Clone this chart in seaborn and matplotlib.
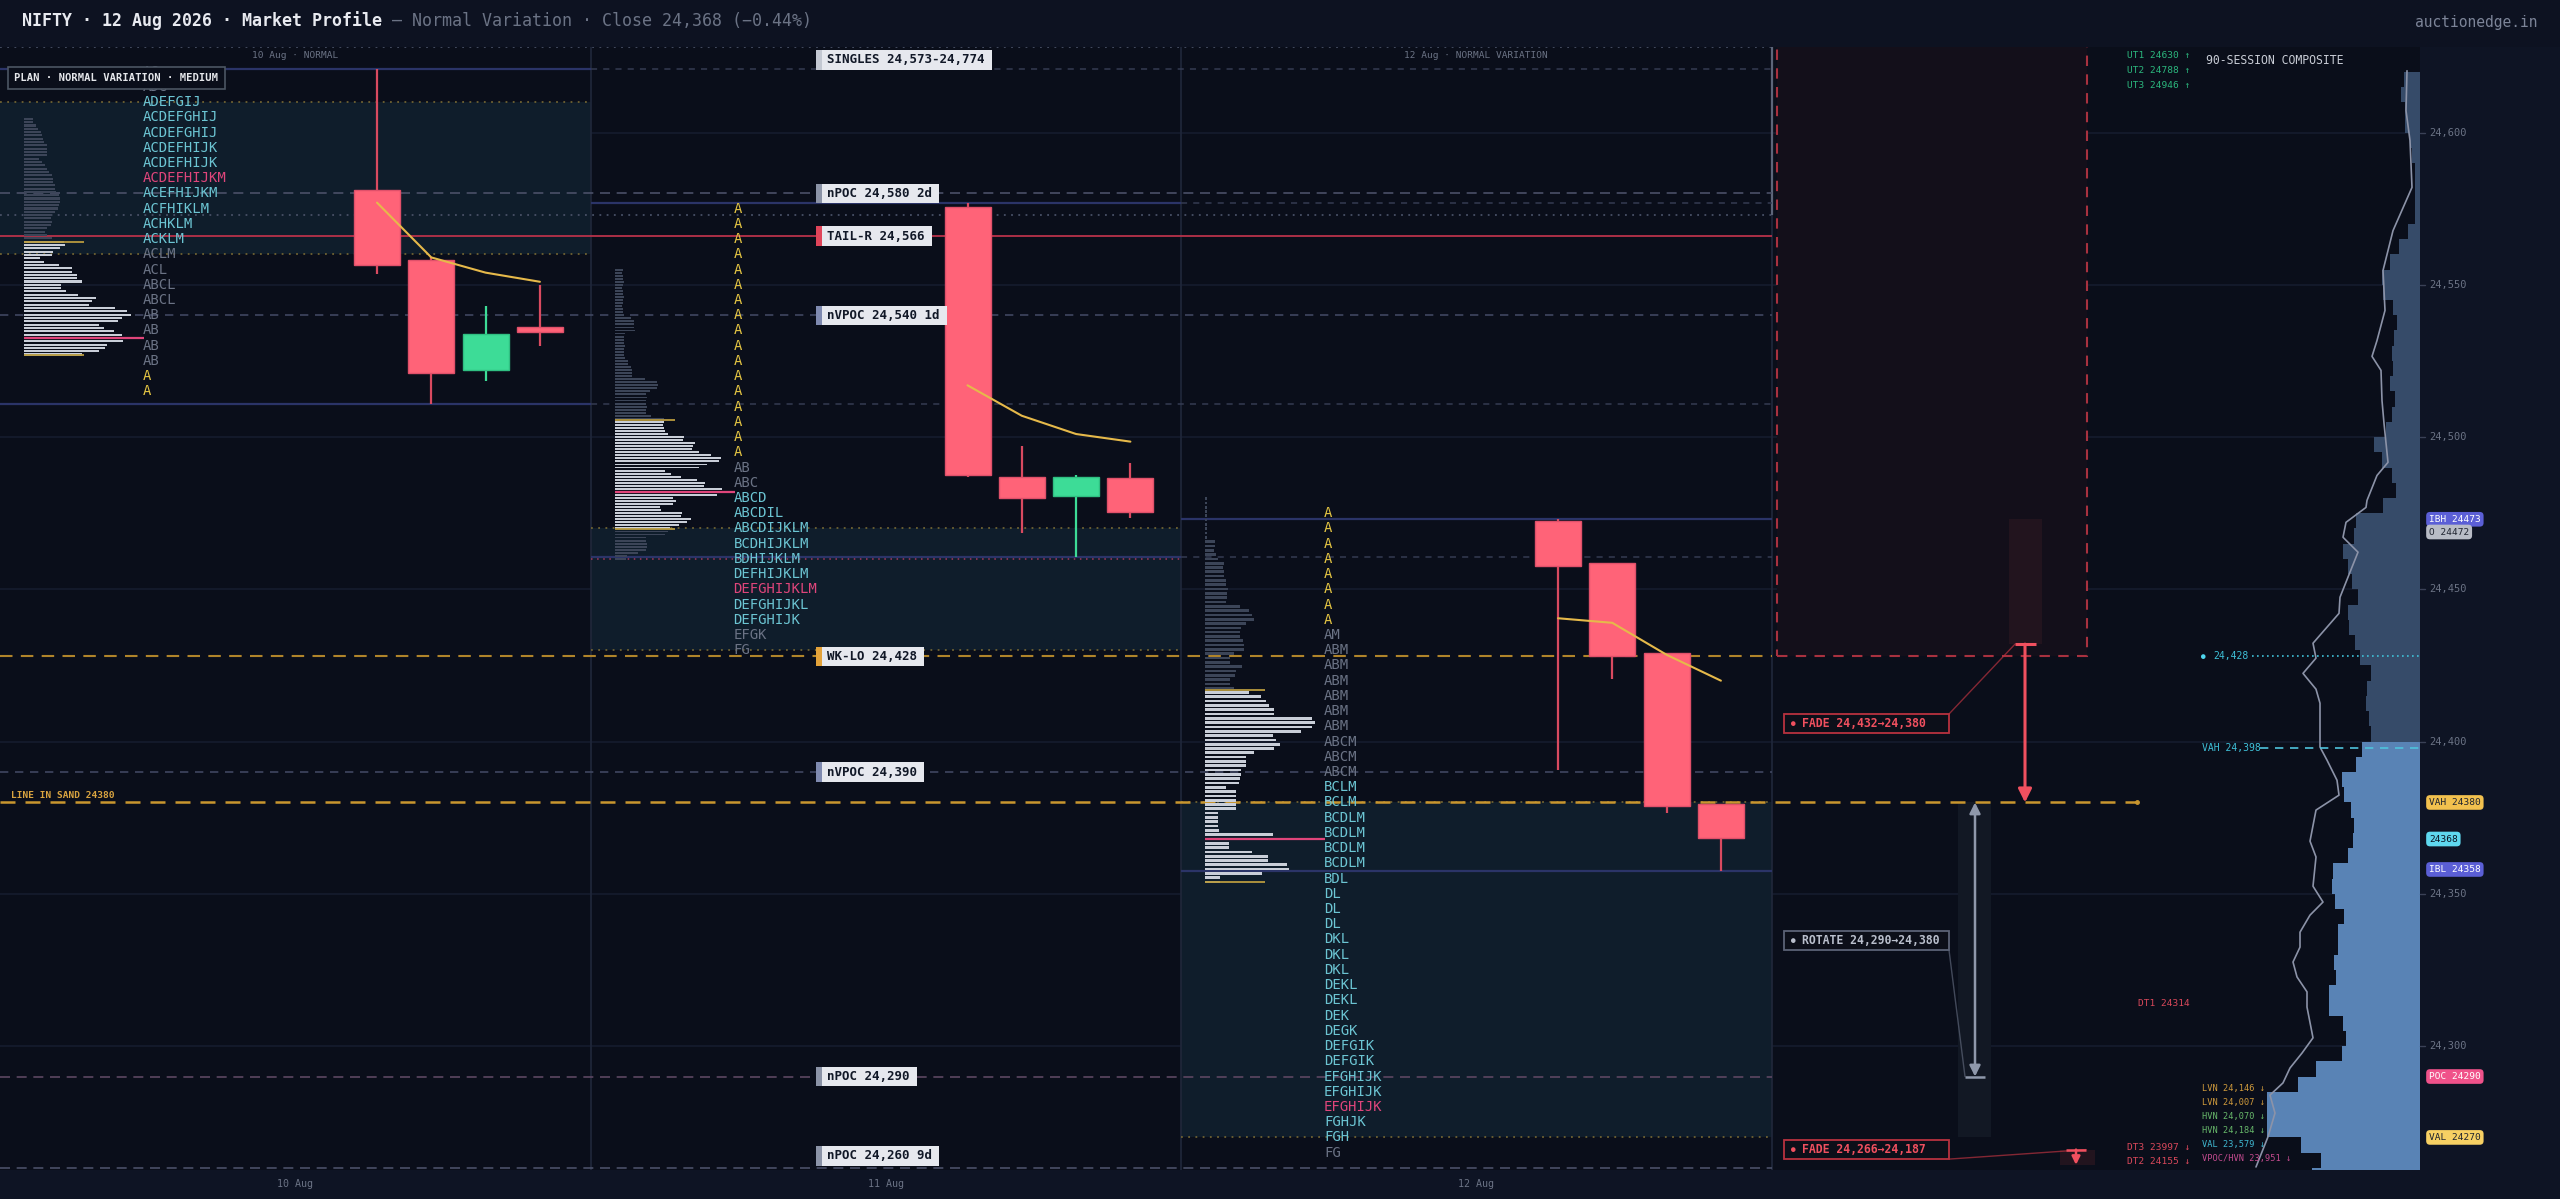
import numpy as np
import pandas as pd
import matplotlib
matplotlib.use("Agg")
import matplotlib.pyplot as plt
from matplotlib.patches import Rectangle
import seaborn as sns

# ---------------- data ----------------
day_names = ["10 Aug", "11 Aug", "12 Aug"]
day_tags = ["10 Aug · NORMAL", "", "12 Aug · NORMAL VARIATION"]

# candles (4 per session)
c_open  = [24581, 24558, 24522, 24536, 24575.5, 24487, 24480.5, 24486.5, 24472.5, 24458.5, 24429, 24379.5]
c_high  = [24621, 24559, 24543, 24550, 24577, 24497, 24487.5, 24491.5, 24473, 24458.5, 24429, 24379.5]
c_low   = [24553.5, 24511, 24518.5, 24530, 24487, 24468.5, 24460.7, 24473.5, 24390.5, 24420.5, 24376.5, 24357.6]
c_close = [24556.5, 24521, 24534, 24534.5, 24487.5, 24480, 24487, 24475.5, 24457.5, 24428, 24379, 24368.3]
vwap = [[24577, 24559, 24554, 24551],
        [24517, 24507, 24501, 24498.5],
        [24440.5, 24439, 24428.5, 24420]]

# TPO letters
tpo_top = [24620, 24575, 24475]
tpo_step = 5
tpo_rows = [
    ["AG", "ADG", "ADEFGIJ", "ACDEFGHIJ", "ACDEFGHIJ", "ACDEFHIJK", "ACDEFHIJK", "ACDEFHIJKM",
     "ACEFHIJKM", "ACFHIKLM", "ACHKLM", "ACKLM", "ACLM", "ACL", "ABCL", "ABCL", "AB", "AB", "AB", "AB",
     "A", "A"],
    ["A", "A", "A", "A", "A", "A", "A", "A", "A", "A", "A", "A", "A", "A", "A", "A", "A",
     "AB", "ABC", "ABCD", "ABCDIL", "ABCDIJKLM", "BCDHIJKLM", "BDHIJKLM", "DEFHIJKLM", "DEFGHIJKLM",
     "DEFGHIJKL", "DEFGHIJK", "EFGK", "FG"],
    ["A", "A", "A", "A", "A", "A", "A", "A", "AM", "ABM", "ABM", "ABM", "ABM", "ABM", "ABM",
     "ABCM", "ABCM", "ABCM", "BCLM", "BCLM", "BCDLM", "BCDLM", "BCDLM", "BCDLM", "BDL", "DL", "DL", "DL",
     "DKL", "DKL", "DKL", "DEKL", "DEKL", "DEK", "DEGK", "DEFGIK", "DEFGIK", "EFGHIJK", "EFGHIJK",
     "EFGHIJK", "FGHJK", "FGH", "FG"],
]
tpo_va = [(24565, 24610), (24440, 24480), (24270, 24385)]
tpo_poc = [24585, 24450, 24280]
va_shade = [(24560, 24610), (24430, 24470), (24270, 24380)]

# volume profiles (top price, bin size, volumes top->down)
vp_top = [24604.5, 24555.0, 24479.8]
vp_bin = [1.09, 1.0, 1.415]
vp_vals = [
    [9, 9, 12.3, 14.3, 16.7, 18.3, 19, 20, 22.7, 23.3, 23.3, 23.3, 15, 18.3, 21, 22.7, 25, 28.3, 29.3, 29.3,
     31, 31, 32.3, 35, 36, 35.7, 35, 34, 31, 28.3, 27.3, 27.7, 26.7, 23.3, 21, 23.3, 28.3, 40, 40.7, 36,
     29, 28.3, 15.7, 20, 35, 48.3, 47.7, 52.7, 53.3, 58.3, 36.7, 37.3, 41.7, 54.3, 71.7, 67.7, 65, 90.7, 103, 107,
     98, 94, 75, 80, 90, 98, 99, 99, 83, 81, 75, 57.7],
    [8, 7, 8, 8, 9, 8, 7, 8, 8, 9, 8, 8, 7, 8, 8, 9, 16, 19.5, 19, 19.5, 20, 10.7, 9.6, 9, 9.6, 10, 9.6, 9, 9.6, 10,
     13.4, 13, 16, 17.6, 17, 17.6, 30.6, 42.5, 43, 42, 35.6, 31.8, 32, 31, 31.8, 32.5, 31.8, 31, 36.4, 49,
     49, 48, 49, 50, 53, 69, 68, 80, 78, 77, 84, 96, 106.5, 104.6, 92, 84, 50, 56.7, 66, 82,
     90, 89, 107, 120, 102, 58, 61, 58.6, 45.6, 46, 67, 66, 76.6, 72, 64, 55, 53, 50, 31.8, 31,
     32.6, 32, 31.5, 23, 12, 11],
    [1.5, 1.5, 1.5, 1.5, 1.5, 1.5, 1.5, 1.5, 1.5, 1.5,
     9.6, 9.6, 8.8, 10.7, 13, 19, 18.4, 18.8, 19, 21, 21, 23, 22, 22, 21, 35, 44, 46.7, 48.7, 41.4,
     35.6, 35.2, 35, 38.3, 39, 39, 28.7, 25, 25, 37, 30.6, 30, 25, 25, 28.7, 44, 56, 61, 63.6, 69,
     69, 107, 110, 106.5, 95.8, 68, 71, 75, 69, 49, 41.4, 41.4, 41.4, 36.4, 35.6, 34.5, 33.7, 21, 30.6, 30.6,
     30.6, 30.6, 30.6, 13.4, 13.4, 13.4, 13.4, 14, 68, 84, 24, 24, 47, 62.5, 62.5, 82, 83.5, 57, 15, 15],
]
vp_va = [(24527, 24564), (24469.7, 24505.5), (24354, 24417)]
vp_poc = [24532.6, 24482.0, 24368.0]

# reference levels
lvl_text = ["SINGLES 24,573-24,774", "nPOC 24,580 2d", "TAIL-R 24,566", "nVPOC 24,540 1d",
            "WK-LO 24,428", "nVPOC 24,390", "nPOC 24,290", "nPOC 24,260 9d"]
lvl_price = [24774, 24580, 24566, 24540, 24428, 24390, 24290, 24260]
lvl_kind = ["singles", "npoc", "tail", "nvpoc", "wklo", "nvpoc", "npoc_dev", "npoc"]
singles_lo = 24573
line_in_sand = 24380

# targets
ut_text = ["UT1 24630 ↑", "UT2 24788 ↑", "UT3 24946 ↑"]
dt_text = ["DT1 24314", "DT3 23997 ↓", "DT2 24155 ↓"]
dt_price = [24314, None, None]

# scenarios
fade1 = (24432, 24380)
rotate = (24290, 24380)
fade2 = (24266, 24187)

# 90-session composite (5-pt bins, lower edges, top->down)
comp_lo = np.arange(24615, 24250, -5)
comp_vol = [15.7, 19, 15, 15, 10, 7.7, 5, 5, 5, 5, 11.7, 21, 30, 38, 37, 26.7, 22.7, 25.7, 27.7, 26.7,
            30, 24.7, 28.3, 34, 45.7, 38.3, 28.3, 24.3, 37.3, 64, 66, 76.7, 72.3, 68.3, 61.7, 72.3, 71, 65, 60, 49.3,
            53.3, 54.3, 51, 49, 58.3, 64, 77.7, 75.7, 69, 66, 67.3, 72.3, 86.7, 88.3, 85, 75.7, 81.7, 81.7, 86, 84,
            90.7, 90.7, 76.7, 74.3, 78.3, 104, 122, 153, 153, 153, 119, 99, 108]
comp_vah = 24398
curve_p = [24620.3, 24607.2, 24597.4, 24582, 24567.8, 24554.7, 24541.6, 24531.7, 24526.5, 24521.9, 24512,
           24504.5, 24491.7, 24487.4, 24479.2, 24476.9, 24472, 24467.1, 24462.2, 24454, 24447.4, 24442.1,
           24432.3, 24427.4, 24422.4, 24417.2, 24412.6, 24398.2, 24393.9, 24387.3, 24382.4, 24377.5, 24367.3,
           24362.1, 24352.5, 24347.3, 24343, 24337.4, 24332.5, 24327.6, 24322.7, 24317.8, 24312.8, 24302.7,
           24297.7, 24292.8, 24287.9, 24283.9, 24278, 24270.2, 24260.3]
curve_w = [13, 14, 10, 8, 27, 37, 35, 43, 48, 39, 38, 36, 32, 43, 53, 54, 74, 77, 62, 72, 80, 81, 107, 104, 117,
           104, 100, 100, 93, 83, 81, 104, 110, 104, 107, 97, 110, 120, 120, 127, 123, 113, 113, 107, 118, 130,
           137, 150, 145, 152, 164]
comp_ticks = [24300, 24350, 24400, 24450, 24500, 24550, 24600]
tag_text = ["IBH 24473", "O 24472", "VAH 24380", "24368", "IBL 24358", "POC 24290", "VAL 24270"]
tag_price = [24473, 24472, 24380, 24368, 24358, 24290, 24270]
tag_kind = ["ib", "open", "vah", "close", "ib", "poc", "val"]
node_text = ["LVN 24,146 ↓", "LVN 24,007 ↓", "HVN 24,070 ↓", "HVN 24,184 ↓", "VAL 23,579 ↓", "VPOC/HVN 23,951 ↓"]
node_kind = ["lvn", "lvn", "hvn", "hvn", "val", "vpoc"]
marker_428 = 24428

# ---------------- layout & style ----------------
W, H = 2560, 1199
PT, PB = 46.7, 1170.0
MAIN_W = 2197
COMP_L, COMP_R = 2197, 2420
YLO, YHI = 24259.3, 24628.2
PANEL_W = 590.5

BG = "#0a0e1a"
FIG_BG = "#0d1221"
GRID = "#161c2e"
SEP = "#1f2639"
HL = "#2b3468"
CYAN = "#6cc5d3"
PINK = "#e0457b"
GREY_T = "#6b7385"
YEL = "#e3c443"
RED = "#ff6378"
GREEN = "#3ddc97"
GOLD = "#c9962e"
MONO = ["DejaVu Sans Mono", "DejaVu Sans"]


def price_at(ypx):
    return YHI - (ypx - PT) / (PB - PT) * (YHI - YLO)


sns.set_theme(style="dark", rc={"axes.facecolor": BG, "figure.facecolor": FIG_BG,
                                "axes.edgecolor": BG, "axes.grid": False})
plt.rcParams["font.family"] = MONO

fig = plt.figure(figsize=(W / 100, H / 100), dpi=100)
ax_b = (H - PB) / H
ax_h = (PB - PT) / H
ax = fig.add_axes([0, ax_b, MAIN_W / W, ax_h])
axc = fig.add_axes([COMP_L / W, ax_b, (COMP_R - COMP_L) / W, ax_h])
for a in (ax, axc):
    a.set_facecolor(BG)
    for s in a.spines.values():
        s.set_visible(False)

ax.set_xlim(0, MAIN_W)
ax.set_ylim(YLO, YHI)

# grid
for g in comp_ticks:
    ax.axhline(g, color=GRID, lw=1.2, zorder=0.2)
    axc.axhline(g, color=GRID, lw=1.2, zorder=0.2)

x0s = [i * PANEL_W for i in range(3)]
forecast_x = 3 * PANEL_W

# value area shading
for d in range(3):
    lo, hi = va_shade[d]
    ax.add_patch(Rectangle((x0s[d], lo), PANEL_W, hi - lo, fc="#0f1d2b", ec="none", zorder=0.3))
    ax.hlines([lo, hi], x0s[d], x0s[d] + PANEL_W, colors="#6f6232", linestyles=(0, (1, 3)), lw=1.3, zorder=0.6)

# panel separators
for d in range(1, 4):
    ax.axvline(x0s[0] + d * PANEL_W, color=SEP, lw=1.3, zorder=0.4)

# singles zone frame
ax.hlines([singles_lo, YHI - 0.25], 0, forecast_x, colors="#485066", linestyles=(0, (1, 3)), lw=1.3, zorder=0.7)
ax.vlines(forecast_x, singles_lo, YHI, colors="#5d6579", lw=1.6, zorder=0.7)

# session high / low lines
for d in range(3):
    hi = max(c_high[4 * d:4 * d + 4])
    lo = min(c_low[4 * d:4 * d + 4])
    ax.hlines([hi, lo], x0s[d], x0s[d] + PANEL_W, colors=HL, lw=1.6, zorder=0.8)
    if d < 2:
        ax.hlines([hi, lo], x0s[d] + PANEL_W, forecast_x, colors="#343b52", linestyles=(0, (4, 4)), lw=1.1, zorder=0.7)
    if d == 1:
        ax.hlines(lo - 0.8, x0s[d], x0s[d] + PANEL_W, colors="#a53a5e", linestyles=(0, (1, 3)), lw=1.1, zorder=0.8)

# reference levels
lvl_style = {
    "singles": dict(tab="#c3c8d2", color=None, ls=None, lw=0),
    "npoc": dict(tab="#8b93a7", color="#4a5068", ls=(0, (6, 4)), lw=1.2),
    "npoc_dev": dict(tab="#8b93a7", color="#5c4762", ls=(0, (6, 4)), lw=1.2),
    "tail": dict(tab="#e0455a", color="#b8324a", ls="-", lw=1.3),
    "nvpoc": dict(tab="#7f8ab0", color="#3f4660", ls=(0, (5, 4)), lw=1.2),
    "wklo": dict(tab="#e3a23a", color="#b0842a", ls=(0, (6, 4)), lw=1.5),
}
LBL_X = 816
CHAR9 = 0.602 * 9 * 100 / 72
box_h = 19.5 / (PB - PT) * (YHI - YLO)
for txt, p, kind in zip(lvl_text, lvl_price, lvl_kind):
    st = lvl_style[kind]
    if st["color"] is not None:
        ax.hlines(p, 0, forecast_x, colors=st["color"], linestyles=st["ls"], lw=st["lw"], zorder=0.9)
    yl = min(max(p, YLO + 4.6), YHI - 4.3)
    bw = 18 + len(txt) * CHAR9
    ax.add_patch(Rectangle((LBL_X, yl - box_h / 2), bw, box_h, fc="#e6e8ee", ec="none", zorder=12))
    ax.add_patch(Rectangle((LBL_X, yl - box_h / 2), 6, box_h, fc=st["tab"], ec="none", zorder=13))
    ax.text(LBL_X + 11, yl, txt, fontsize=9, weight="bold", color="#111827", va="center", ha="left",
            family=MONO, zorder=14)

# line in sand
ax.hlines(line_in_sand, 0, 2137, colors=GOLD, linestyles=(0, (6, 4)), lw=1.8, zorder=1.0)
ax.plot([2137], [line_in_sand], "o", ms=2.5, color=GOLD, zorder=1.0)
ax.text(11, price_at(795), "LINE IN SAND 24380", fontsize=6.8, weight="bold", color="#d9a440",
        va="center", ha="left", zorder=5)

# volume profiles
for d in range(3):
    vals = np.array(vp_vals[d])
    ys = vp_top[d] - np.arange(len(vals)) * vp_bin[d]
    lo, hi = vp_va[d]
    cols = ["#c9ced8" if lo - 0.3 <= y <= hi + 0.3 else "#3c4558" for y in ys]
    ax.barh(ys, vals, left=x0s[d] + 24, height=vp_bin[d] * 0.62, color=cols, lw=0, zorder=2)
    ax.hlines([lo, hi], x0s[d] + 24, x0s[d] + 84, colors="#b89a3e", lw=1.3, zorder=2.5)
    ax.hlines(vp_poc[d], x0s[d] + 24, x0s[d] + 144, colors=PINK, lw=1.6, zorder=2.5)

# TPO letters
for d in range(3):
    for i, row in enumerate(tpo_rows[d]):
        p = tpo_top[d] - i * tpo_step
        lo, hi = tpo_va[d]
        if row == "A":
            col = YEL
        elif p == tpo_poc[d]:
            col = PINK
        elif lo <= p <= hi:
            col = CYAN
        else:
            col = GREY_T
        ax.text(x0s[d] + 143, p, row, fontsize=10, color=col, va="center", ha="left", zorder=4)

# candles
for k in range(12):
    d, j = divmod(k, 4)
    x = x0s[d] + 377 + j * 54.3
    up = c_close[k] >= c_open[k]
    col = GREEN if up else RED
    wick = GREEN if up else "#d94a60"
    ax.vlines(x, c_low[k], c_high[k], colors=wick, lw=1.6, zorder=5)
    lo = min(c_open[k], c_close[k])
    ax.bar(x, abs(c_close[k] - c_open[k]), bottom=lo, width=46, color=col, edgecolor="#e0506a" if not up else "#2fbf82",
           lw=1, zorder=6)

# vwap lines
for d in range(3):
    xs = [x0s[d] + 377 + j * 54.3 for j in range(4)]
    sns.lineplot(x=xs, y=vwap[d], color="#e6b94a", lw=1.5, ax=ax, zorder=7)

# session tags & PLAN box
for d in range(3):
    if day_tags[d]:
        ax.text(x0s[d] + PANEL_W / 2, price_at(55), day_tags[d], fontsize=6.8, color=GREY_T, ha="center",
                va="center", zorder=5)
ax.text(14.5, price_at(78), "PLAN · NORMAL VARIATION · MEDIUM", fontsize=7.6, weight="bold", color="#e5e7eb",
        ha="left", va="center", zorder=15,
        bbox=dict(boxstyle="square,pad=0.6", fc=BG, ec="#4b5563", lw=1.2))

# ---- forecast zone ----
ax.add_patch(Rectangle((1777, fade1[0] - 4), 310, YHI - fade1[0] + 4 + 1, fc="#130f1a", ec="#a8313f",
                       ls=(0, (5, 4)), lw=1.5, zorder=0.5))
ax.add_patch(Rectangle((2009, fade1[0]), 33, 24473 - fade1[0], fc="#22141e", ec="none", zorder=0.6))
ax.annotate("", xy=(2025, fade1[1]), xytext=(2025, fade1[0]),
            arrowprops=dict(arrowstyle="-|>", color="#f0505f", lw=2.2, mutation_scale=20, shrinkA=0, shrinkB=0),
            zorder=8)
ax.hlines(fade1[0], 2015, 2036, colors="#f0505f", lw=2.2, zorder=8)

ax.add_patch(Rectangle((1958, rotate[0] - 20), 33, rotate[1] - rotate[0] + 20, fc="#121824", ec="none", zorder=0.6))
ax.annotate("", xy=(1975, rotate[1]), xytext=(1975, rotate[0]),
            arrowprops=dict(arrowstyle="<|-|>", color="#8f98ab", lw=1.8, mutation_scale=16, shrinkA=0, shrinkB=0),
            zorder=8)
ax.hlines(rotate[0], 1965, 1985, colors="#8f98ab", lw=1.8, zorder=8)

ax.add_patch(Rectangle((2060, fade2[0] - 5), 35, 5, fc="#22141e", ec="none", zorder=0.6))
ax.annotate("", xy=(2076, fade2[0] - 5), xytext=(2076, fade2[0]),
            arrowprops=dict(arrowstyle="-|>", color="#f0505f", lw=1.8, mutation_scale=12, shrinkA=0, shrinkB=0),
            zorder=8)
ax.hlines(fade2[0], 2066, 2086, colors="#f0505f", lw=1.8, zorder=8)

sc_h = 19 / (PB - PT) * (YHI - YLO)
scen = [("FADE 24,432→24,380", price_at(723.5), "#b8323f", "#f0505f", (2015, fade1[0])),
        ("ROTATE 24,290→24,380", price_at(940.5), "#5b6376", "#b9bfcc", (1965, rotate[0])),
        ("FADE 24,266→24,187", min(max(fade2[0], YLO + 4.1), YHI), "#b8323f", "#f0505f", (2086, fade2[0]))]
for txt, yc, ec, tc, tgt in scen:
    ax.add_patch(Rectangle((1784, yc - sc_h / 2), 165, sc_h, fc="#0c0f19", ec=ec, lw=1.3, zorder=9))
    ax.text(1791, yc, "●", fontsize=5.5, color=tc, va="center", ha="left", zorder=10)
    ax.text(1802, yc, txt, fontsize=8.3, weight="bold", color=tc, va="center", ha="left", zorder=10)
    ax.plot([1949, tgt[0]], [yc + (sc_h / 2 if tgt[1] > yc else -sc_h / 2), tgt[1]], color=ec, lw=1, alpha=0.7,
            zorder=7)

for i, t in enumerate(ut_text):
    ax.text(2190, price_at(55 + 15 * i), t, fontsize=6.8, color="#2bb67d", ha="right", va="center", zorder=5)
dt_y = [dt_price[0], price_at(1147), price_at(1162)]
for t, yv in zip(dt_text, dt_y):
    ax.text(2190, yv, t, fontsize=6.8, color="#d9485a", ha="right", va="center", zorder=5)

ax.set_xticks([])
ax.set_yticks([])
ax.set_xlabel("")
ax.set_ylabel("")

# ---- composite ----
comp_df = pd.DataFrame({"price": comp_lo + 2.5, "vol": comp_vol,
                        "zone": np.where(comp_lo < comp_vah, "va", "out")})
sns.barplot(data=comp_df, x="vol", y="price", hue="zone", orient="y", native_scale=True, dodge=False,
            palette={"va": "#4a82c4", "out": "#2d4a72"}, width=1.0, linewidth=0, errorbar=None,
            legend=False, ax=axc, zorder=2)
sns.lineplot(x=curve_w, y=curve_p, sort=False, estimator=None, color="#8c93a8", lw=1.2, ax=axc, zorder=3)
axc.set_xlim(COMP_R - COMP_L, 0)
axc.set_ylim(YLO, YHI)
axc.set_xticks([])
axc.set_yticks([])
axc.set_xlabel("")
axc.set_ylabel("")

cx = lambda px: COMP_R - px
axc.text(cx(2206), price_at(60), "90-SESSION COMPOSITE", fontsize=8.3, color="#c9cdd6", ha="left", va="center")
axc.hlines(marker_428, cx(2252), 0, colors="#3fc1d9", linestyles=(0, (1, 2)), lw=1.2, zorder=4)
axc.text(cx(2201), marker_428, "●", fontsize=5.5, color="#4fd6ee", ha="left", va="center", zorder=5)
axc.text(cx(2213), marker_428, "24,428", fontsize=7, color="#3fc1d9", ha="left", va="center", zorder=5)
axc.hlines(comp_vah, cx(2260), 0, colors="#4fc3dc", linestyles=(0, (5, 4)), lw=1.2, zorder=4)
axc.text(cx(2202), comp_vah, "VAH 24,398", fontsize=7, color="#3fc1d9", ha="left", va="center", zorder=5)

node_col = {"lvn": "#cf9a3c", "hvn": "#67b86a", "val": "#3fb7d0", "vpoc": "#c44b8f"}
for i, (t, k) in enumerate(zip(node_text, node_kind)):
    axc.text(cx(2202), price_at(1088 + 14 * i), t, fontsize=6.2, color=node_col[k], ha="left", va="center",
             zorder=6)

for g in comp_ticks:
    axc.text(cx(2429), g, f"{g:,}", fontsize=7.5, color=GREY_T, ha="left", va="center", clip_on=False)
    axc.plot([0, cx(2425)], [g, g], color="#3a4156", lw=1, clip_on=False)

tag_style = {"ib": ("#5b5fd6", "white"), "open": ("#b8bcc6", "#1f2430"), "vah": ("#f2c14e", "#1f2430"),
             "close": ("#5fd8ef", "#0b1220"), "poc": ("#f0528a", "white"), "val": ("#f7d063", "#1f2430")}
tag_y = {"O 24472": price_at(532)}
for t, p, k in zip(tag_text, tag_price, tag_kind):
    fc, tc = tag_style[k]
    axc.text(cx(2429), tag_y.get(t, p), t, fontsize=6.8, color=tc, ha="left", va="center", clip_on=False,
             zorder=8, bbox=dict(boxstyle="round,pad=0.3,rounding_size=0.4", fc=fc, ec="none"))

# ---- figure-level frames and texts ----
fig.patches.append(Rectangle((COMP_R / W, ax_b), (W - COMP_R) / W, ax_h, transform=fig.transFigure,
                             fc="#0e1424", ec="none", zorder=-1))
fig.patches.append(Rectangle((0, 0), 1, ax_b, transform=fig.transFigure, fc="#0e1424", ec="none", zorder=-1))
for d in range(3):
    fig.text((x0s[d] + PANEL_W / 2) / W, 1 - 1184 / H, day_names[d], fontsize=7.2, color=GREY_T,
             ha="center", va="center")

t1 = fig.text(22 / W, 1 - 21 / H, "NIFTY · 12 Aug 2026 · Market Profile", fontsize=12, weight="bold",
              color="#e8eaf0", ha="left", va="center")
fig.canvas.draw()
bb = t1.get_window_extent(renderer=fig.canvas.get_renderer())
fig.text(bb.x1 / W, 1 - 21 / H, " — Normal Variation · Close 24,368 (−0.44%)", fontsize=12,
         color="#6b7385", ha="left", va="center")
fig.text(2537 / W, 1 - 23 / H, "auctionedge.in", fontsize=10.5, color="#7c8498", ha="right", va="center")

fig.savefig("out.png", dpi=100, facecolor=FIG_BG)
